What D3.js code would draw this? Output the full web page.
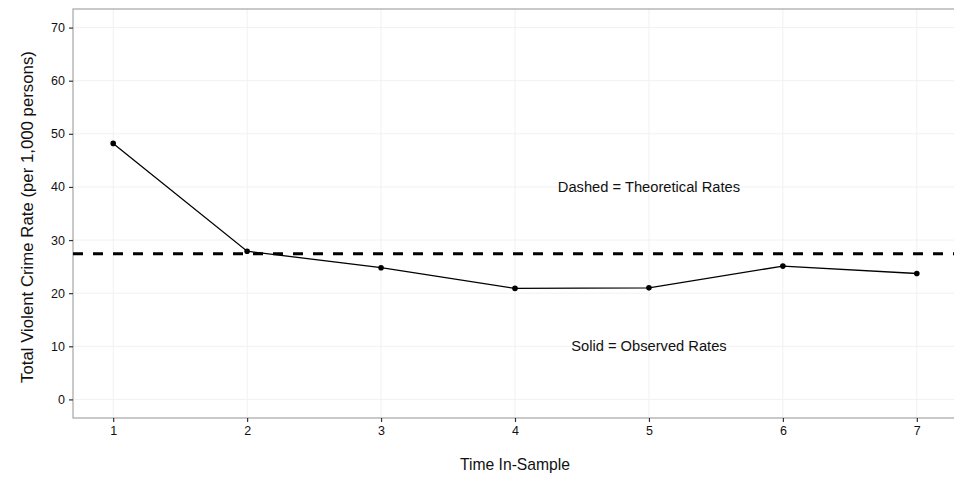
<!DOCTYPE html>
<html lang="en">
<head>
    <meta charset="UTF-8">
    <title>Total Violent Crime Rate</title>
    <script src="https://d3js.org/d3.v7.min.js"></script>
    <style>
        body { margin: 0; background-color: #fff; }
        svg text { font-family: "Liberation Sans", Arial, sans-serif; fill: #111; }
    </style>
</head>
<body>
<script>
    // Data
    const timePoints = [1, 2, 3, 4, 5, 6, 7];
    const observedRates = [48.2, 27.9, 24.8, 20.9, 21.0, 25.1, 23.7];
    const theoreticalRate = 27.4;
    const xTicks = [1, 2, 3, 4, 5, 6, 7];
    const yTicks = [0, 10, 20, 30, 40, 50, 60, 70];
    const notes = [
        { x: 5, y: 40, text: "Dashed = Theoretical Rates" },
        { x: 5, y: 10, text: "Solid = Observed Rates" }
    ];

    const width = 954;
    const height = 477;
    const margin = { top: 9, right: -3, bottom: 59, left: 73 };
    const innerWidth = width - margin.left - margin.right;
    const innerHeight = height - margin.top - margin.bottom;

    const svg = d3.select("body")
        .append("svg")
        .attr("width", width)
        .attr("height", height);

    const g = svg.append("g")
        .attr("transform", `translate(${margin.left},${margin.top})`);

    // ggplot-like 5% expansion
    const xScale = d3.scaleLinear()
        .domain([0.7, 7.3])
        .range([0, innerWidth]);

    const yScale = d3.scaleLinear()
        .domain([-3.5, 73.5])
        .range([innerHeight, 0]);

    // Grid lines (very faint)
    g.append("g")
        .selectAll("line")
        .data(xTicks)
        .enter().append("line")
        .attr("x1", d => xScale(d))
        .attr("x2", d => xScale(d))
        .attr("y1", 0)
        .attr("y2", innerHeight)
        .attr("stroke", "#f1f1f1")
        .attr("stroke-width", 1);

    g.append("g")
        .selectAll("line")
        .data(yTicks)
        .enter().append("line")
        .attr("x1", 0)
        .attr("x2", innerWidth)
        .attr("y1", d => yScale(d))
        .attr("y2", d => yScale(d))
        .attr("stroke", "#f1f1f1")
        .attr("stroke-width", 1);

    // Panel border
    g.append("rect")
        .attr("x", 0)
        .attr("y", 0)
        .attr("width", innerWidth)
        .attr("height", innerHeight)
        .attr("fill", "none")
        .attr("stroke", "#a6a6a6")
        .attr("stroke-width", 1.2);

    // Axes
    const xAxis = g.append("g")
        .attr("transform", `translate(0,${innerHeight})`)
        .call(d3.axisBottom(xScale).tickValues(xTicks).tickSize(4).tickPadding(4).tickFormat(d3.format("d")));
    xAxis.select(".domain").remove();

    const yAxis = g.append("g")
        .call(d3.axisLeft(yScale).tickValues(yTicks).tickSize(4).tickPadding(4).tickFormat(d3.format("d")));
    yAxis.select(".domain").remove();

    [xAxis, yAxis].forEach(ax => {
        ax.selectAll(".tick line").attr("stroke", "#333").attr("stroke-width", 1.2);
        ax.selectAll(".tick text")
            .style("font-size", "12.5px")
            .style("font-family", "'Liberation Sans', Arial, sans-serif")
            .attr("fill", "#111");
    });

    // Dashed theoretical line
    g.append("line")
        .attr("x1", 0)
        .attr("x2", innerWidth)
        .attr("y1", yScale(theoreticalRate))
        .attr("y2", yScale(theoreticalRate))
        .attr("stroke", "#000")
        .attr("stroke-width", 3)
        .attr("stroke-dasharray", "10,10");

    // Observed line + points
    const line = d3.line()
        .x((d, i) => xScale(timePoints[i]))
        .y(d => yScale(d));

    g.append("path")
        .datum(observedRates)
        .attr("d", line)
        .attr("fill", "none")
        .attr("stroke", "#000")
        .attr("stroke-width", 1.3);

    g.selectAll(".pt")
        .data(observedRates)
        .enter().append("circle")
        .attr("class", "pt")
        .attr("cx", (d, i) => xScale(timePoints[i]))
        .attr("cy", d => yScale(d))
        .attr("r", 2.8)
        .attr("fill", "#000");

    // Annotations
    g.selectAll(".note")
        .data(notes)
        .enter().append("text")
        .attr("class", "note")
        .attr("x", d => xScale(d.x))
        .attr("y", d => yScale(d.y))
        .attr("dy", "0.35em")
        .attr("text-anchor", "middle")
        .style("font-size", "14.7px")
        .text(d => d.text);

    // Axis titles
    svg.append("text")
        .attr("x", margin.left + innerWidth / 2)
        .attr("y", 470)
        .attr("text-anchor", "middle")
        .style("font-size", "15.7px")
        .text("Time In-Sample");

    svg.append("text")
        .attr("transform", "translate(33,217) rotate(-90)")
        .attr("text-anchor", "middle")
        .style("font-size", "16.8px")
        .text("Total Violent Crime Rate (per 1,000 persons)");
</script>
</body>
</html>
